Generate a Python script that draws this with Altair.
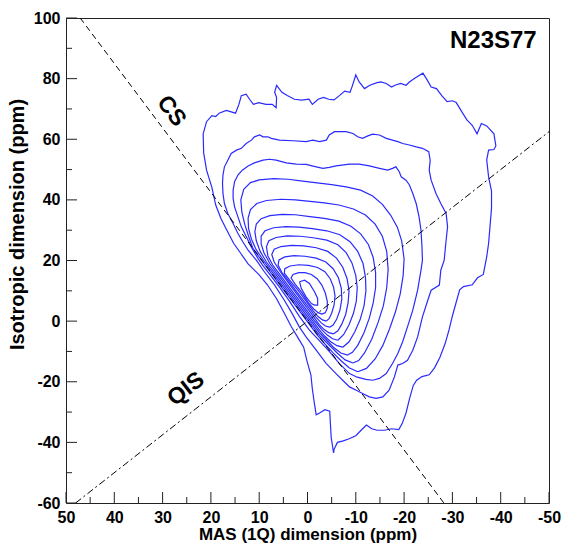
import altair as alt
import pandas as pd

FONT = "Liberation Sans, Arial, Helvetica, sans-serif"
BLUE = "#2a2aff"

# ---------------- data (ppm) ----------------
X_TICKS = [50, 40, 30, 20, 10, 0, -10, -20, -30, -40, -50]
X_MINOR = [45, 35, 25, 15, 5, -5, -15, -25, -35, -45]
Y_TICKS = [-60, -40, -20, 0, 20, 40, 60, 80, 100]
Y_MINOR = [-50, -30, -10, 10, 30, 50, 70, 90]

CS_X = [47.06, -28.24]
CS_Y = [100, -60]
QIS_X = [48, -50]
QIS_Y = [-60, 62.5]

C1 = [(21.6,61.8),(20.9,65.8),(19.8,67.8),(19.0,67.5),(18.3,68.6),(16.8,69.5),(14.9,68.6),(14.2,71.5),
      (13.7,74.4),(12.7,74.9),(12.0,73.2),(11.2,71.5),(10.1,72.1),(8.6,71.5),(7.3,71.5),(6.5,70.4),
      (6.4,73.8),(6.8,75.5),(6.4,77.8),(5.3,75.5),(4.2,74.4),(2.7,73.2),(1.2,72.9),(-0.3,73.2),
      (-1.0,71.5),(-2.2,73.2),(-3.3,73.8),(-4.4,73.2),(-5.5,73.0),(-6.6,74.4),(-7.7,75.9),(-8.8,75.5),
      (-9.2,77.2),(-10.0,81.2),(-10.7,78.9),(-11.8,76.7),(-12.9,77.8),(-14.4,78.7),(-15.2,78.9),
      (-16.3,78.4),(-17.4,77.2),(-18.1,77.8),(-19.3,78.4),(-20.4,77.8),(-21.1,78.9),(-22.2,80.1),
      (-23.9,81.8),(-24.8,79.5),(-25.6,77.2),(-26.7,76.7),(-27.8,74.4),(-28.9,72.4),(-30.0,72.7),
      (-30.8,72.1),(-31.9,69.2),(-33.0,66.4),(-34.1,64.6),(-35.1,61.8),(-36.0,65.2),(-37.1,64.4),
      (-38.6,61.8),(-39.0,57.8),(-38.6,56.6),(-37.5,56.4),(-37.1,53.2),(-37.5,47.5),(-38.1,42.9),
      (-38.1,37.2),(-37.8,31.5),(-37.5,25.7),(-37.1,21.2),(-36.4,15.4),(-35.2,14.3),(-34.1,12.0),
      (-32.3,11.4),(-31.5,10.3),(-30.8,6.3),(-30.0,1.7),(-29.3,-2.9),(-28.5,-7.4),(-27.4,-12.0),
      (-26.3,-15.4),(-25.2,-17.7),(-23.7,-18.3),(-22.6,-19.5),(-21.9,-21.2),(-21.1,-25.7),
      (-20.4,-30.3),(-19.6,-33.8),(-18.9,-35.8),(-17.4,-35.5),(-15.9,-36.0),(-14.4,-36.0),
      (-13.3,-35.5),(-12.2,-34.3),(-11.1,-36.0),(-10.0,-37.8),(-8.5,-38.9),(-7.4,-39.5),(-6.2,-40.0),
      (-5.5,-42.3),(-5.4,-43.5),(-4.9,-38.3),(-4.6,-29.7),(-3.6,-29.2),(-2.5,-30.3),(-1.8,-30.9),
      (-1.4,-26.9),(-1.0,-22.3),(-0.7,-17.7),(0.1,-13.2),(0.8,-8.6),(1.9,-5.7),(3.4,-1.7),(4.9,2.9),
      (6.4,7.4),(8.3,12.0),(10.1,15.4),(12.3,18.9),(13.8,22.3),(15.3,25.7),(16.8,30.3),(17.9,33.8),
      (19.0,38.3),(19.8,44.1),(20.9,49.8),(21.5,55.5)]

C2 = [(10.6,20.1),(12.3,23.4),(13.4,26.2),(14.4,28.9),(15.4,32.2),(16.5,35.5),(17.2,38.8),(17.5,42.1),
      (17.6,45.4),(17.5,48.2),(17.2,50.9),(16.5,53.1),(15.8,55.3),(14.7,56.4),(13.7,57.0),(12.7,58.6),
      (11.6,59.7),(11.0,60.8),(9.9,61.4),(9.2,60.8),(8.2,60.8),(7.5,60.3),(5.8,59.7),(3.0,59.5),
      (0.3,59.2),(-1.1,59.7),(-2.5,59.2),(-3.9,59.7),(-4.5,61.4),(-5.6,62.5),(-6.6,62.5),(-8.0,62.5),
      (-9.4,61.9),(-10.4,60.8),(-11.4,60.3),(-12.5,61.1),(-13.5,61.7),(-14.9,61.4),(-16.3,60.3),
      (-17.6,59.7),(-18.7,59.2),(-19.7,58.6),(-21.1,58.1),(-22.5,57.5),(-23.8,57.0),(-25.1,55.9),
      (-25.4,53.1),(-25.2,49.8),(-25.6,46.5),(-26.6,42.1),(-27.6,38.8),(-28.7,35.5),(-29.0,31.1),
      (-28.7,26.7),(-28.3,20.1),(-27.6,16.8),(-27.3,11.9),(-25.6,10.2),(-24.9,6.9),(-23.8,1.4),
      (-22.8,-5.2),(-21.8,-9.6),(-20.7,-12.9),(-19.7,-14.0),(-18.7,-14.5),(-18.0,-18.4),(-16.9,-22.8),
      (-15.6,-25.0),(-14.2,-25.5),(-12.8,-25.0),(-11.4,-23.9),(-10.1,-22.8),(-8.7,-21.7),(-7.6,-20.0),
      (-5.9,-17.3),(-3.9,-14.0),(-1.8,-9.6),(0.3,-5.2),(1.7,-1.9),(3.1,2.3),(4.8,6.9),(6.8,11.9),
      (8.9,16.2)]

C3 = [(10.27,20.7),(11.64,24.5),(12.67,27.8),(13.7,31.1),(14.4,34.4),(15.1,37.7),(15.4,40.5),(15.4,43.2),
      (15.1,46.0),(14.4,48.2),(13.5,49.8),(12.3,51.2),(11.0,52.2),(9.2,53.1),(7.85,53.4),(6.5,53.1),
      (4.4,52.2),(2.3,51.8),(0.3,51.7),(-1.8,50.9),(-3.2,50.4),(-4.5,50.7),(-5.9,51.2),(-8.7,51.8),
      (-10.7,51.8),(-12.8,51.2),(-14.9,50.4),(-16.6,49.8),(-17.6,50.4),(-18.3,50.9),(-19.0,49.3),
      (-19.4,47.6),(-20.4,46.5),(-21.1,44.9),(-21.8,42.1),(-22.5,38.8),(-23.1,34.4),(-23.5,30.0),
      (-23.7,24.5),(-23.8,20.1),(-23.5,16.8),(-22.8,10.2),(-21.8,3.6),(-20.7,-1.9),(-19.7,-6.8),
      (-18.7,-10.7),(-17.6,-14.0),(-16.3,-17.3),(-14.9,-18.9),(-13.5,-19.5),(-12.1,-19.2),
      (-10.3,-18.5),(-8.7,-17.3),(-6.6,-14.0),(-4.5,-10.0),(-2.5,-6.5),(-0.4,-3.0),(1.65,1.5),
      (3.7,6.5),(5.8,11.2),(7.85,15.5),(9.3,18.5)]

C4 = [(-10.4,-16.7),(-8.6,-15.4),(-6.9,-13.0),(-5.3,-10.5),(-3.6,-7.5),(-2.0,-4.5),(0.1,0.0),(2.45,5.0),
      (4.8,10.0),(7.15,15.0),(9.5,20.0),(11.3,24.0),(12.2,28.0),(13.0,32.0),(13.6,36.0),(13.8,40.0),
      (13.2,43.5),(11.8,45.7),(10.0,46.6),(7.0,47.0),(4.0,46.8),(1.0,46.2),(-2.0,45.6),(-5.0,45.0),
      (-8.0,44.3),(-11.0,43.2),(-13.5,41.3),(-15.5,38.5),(-17.2,35.0),(-18.6,31.0),(-19.5,26.5),
      (-20.0,20.5),(-19.8,15.0),(-19.2,9.0),(-18.2,3.0),(-17.0,-2.5),(-15.6,-8.0),(-14.0,-12.5),
      (-12.2,-15.6)]

C5 = [(-9.4,-13.8),(-7.8,-12.8),(-6.2,-10.6),(-4.7,-8.2),(-2.65,-5.0),(-0.3,0.0),(2.05,5.0),(4.4,10.0),
      (6.75,15.0),(9.1,20.0),(10.6,23.5),(11.6,27.0),(12.2,30.5),(12.3,34.0),(11.8,36.8),(10.5,38.8),
      (8.5,39.8),(5.5,40.2),(2.5,40.0),(-0.5,39.5),(-3.5,39.0),(-6.5,38.3),(-9.5,37.0),(-12.0,35.0),
      (-14.0,32.0),(-15.5,28.0),(-16.4,23.0),(-16.7,17.0),(-16.4,11.0),(-15.7,5.0),(-14.6,-0.5),
      (-13.3,-6.0),(-11.8,-10.5),(-10.6,-13.0)]

C6 = [(-8.3,-11.2),(-6.9,-10.5),(-5.5,-8.8),(-4.0,-6.3),(-2.6,-4.0),(-0.7,0.0),(1.65,5.0),(4.0,10.0),
      (6.35,15.0),(8.5,19.5),(9.8,23.0),(10.6,26.5),(10.9,29.5),(10.6,32.0),(9.6,33.8),(7.8,34.8),
      (5.2,35.2),(2.5,35.1),(-0.5,34.5),(-3.5,33.9),(-6.5,33.0),(-9.0,31.3),(-11.0,28.8),(-12.6,25.3),
      (-13.6,21.0),(-14.1,16.0),(-14.1,11.0),(-13.6,6.0),(-12.8,1.0),(-11.7,-3.8),(-10.4,-8.0),
      (-9.3,-10.3)]

C7 = [(-7.3,-8.6),(-6.1,-8.1),(-4.8,-6.8),(-3.6,-5.0),(-2.5,-3.0),(-1.1,0.0),(1.25,5.0),(3.6,10.0),
      (5.95,15.0),(7.8,19.0),(9.0,22.5),(9.6,25.5),(9.6,28.0),(8.8,29.8),(7.0,30.8),(4.5,31.2),
      (1.8,31.0),(-1.0,30.5),(-4.0,29.8),(-6.7,28.5),(-8.8,26.2),(-10.4,23.0),(-11.5,19.0),
      (-12.0,14.5),(-12.1,10.0),(-11.7,5.0),(-10.9,0.5),(-9.8,-3.5),(-8.6,-6.8)]

C8 = [(-6.3,-6.3),(-5.2,-5.8),(-4.1,-4.6),(-3.0,-2.9),(-1.5,0.0),(0.85,5.0),(3.2,10.0),(5.55,15.0),
      (7.2,18.5),(8.2,21.5),(8.5,24.5),(8.0,26.5),(6.5,27.6),(4.2,28.1),(1.5,28.0),(-1.2,27.5),
      (-4.0,26.7),(-6.3,25.2),(-8.0,22.6),(-9.2,19.2),(-10.0,15.0),(-10.3,11.0),(-10.1,6.5),
      (-9.5,2.5),(-8.6,-1.2),(-7.5,-4.4)]

C9 = [(-5.4,-4.2),(-4.4,-3.8),(-3.4,-2.7),(-2.4,-1.1),(-0.8,2.5),(1.55,7.5),(3.9,12.5),(5.6,16.2),
      (6.9,19.5),(7.4,22.0),(6.9,23.7),(5.5,24.6),(3.3,25.0),(0.8,24.8),(-1.8,24.2),(-4.2,23.0),
      (-6.0,20.8),(-7.3,17.8),(-8.2,14.0),(-8.6,10.0),(-8.4,6.0),(-7.9,2.2),(-7.1,-1.0),(-6.3,-3.2)]

C10 = [(-4.6,-2.0),(-3.7,-1.6),(-2.8,-0.5),(-1.8,1.2),(-0.25,4.5),(1.9,9.0),(3.8,13.0),(5.3,16.0),
       (6.1,18.5),(5.9,20.2),(4.7,21.2),(2.8,21.6),(0.5,21.4),(-1.8,20.8),(-3.8,19.5),(-5.3,17.3),
       (-6.4,14.3),(-7.0,10.8),(-7.1,7.2),(-6.7,3.5),(-6.0,0.5),(-5.3,-1.3)]

C11 = [(-3.9,0.0),(-3.1,0.4),(-2.2,1.5),(-1.2,3.3),(0.25,6.5),(2.1,10.5),(3.7,13.5),(4.8,15.8),
       (4.7,17.3),(3.6,18.2),(1.8,18.6),(-0.2,18.4),(-2.1,17.7),(-3.6,16.3),(-4.7,14.0),(-5.4,11.2),
       (-5.7,8.3),(-5.5,5.3),(-5.0,2.6),(-4.5,0.9)]

C12 = [(-3.0,2.3),(-2.2,2.8),(-1.3,4.0),(-0.2,6.0),(1.2,9.5),(2.6,12.3),(3.4,14.2),(3.0,15.4),
       (1.8,16.0),(0.5,16.0),(-0.8,15.4),(-2.0,14.0),(-3.0,11.8),(-3.7,9.2),(-4.1,6.5),(-4.1,4.3),
       (-3.7,2.8)]

C13 = [(1.65,13.0),(0.6,13.5),(-0.4,12.4),(-1.45,9.7),(-2.1,7.5),(-2.1,5.3),(-1.45,5.3),(-0.8,5.8),
       (0.3,8.0),(1.3,10.8)]

CONTOURS = [C1, C2, C3, C4, C5, C6, C7, C8, C9, C10, C11, C12, C13]

# ---------------- tables ----------------
rows = []
for ci, pts in enumerate(CONTOURS):
    closed = pts + [pts[0]]
    for j, (xv, yv) in enumerate(closed):
        rows.append({"contour": ci, "idx": j, "x": xv, "y": yv})
df = pd.DataFrame(rows)

cs_df = pd.DataFrame({"x": CS_X, "y": CS_Y, "idx": [0, 1]})
qis_df = pd.DataFrame({"x": QIS_X, "y": QIS_Y, "idx": [0, 1]})

xscale = alt.Scale(domain=[-50, 50], reverse=True, nice=False, zero=False)
yscale = alt.Scale(domain=[-60, 100], nice=False, zero=False)

x_axis = alt.Axis(
    title="MAS (1Q) dimension (ppm)", values=X_TICKS, grid=False, domain=False,
    ticks=False, tickSize=0, labelPadding=6, labelFontSize=16, labelFontWeight="bold",
    labelFont=FONT, labelColor="black", labelExpr="'' + datum.value", labelFlush=False,
    titleFontSize=17, titleFontWeight="bold", titleFont=FONT, titleColor="black",
    titleY=36, titleBaseline="alphabetic",
)
y_axis = alt.Axis(
    title="Isotropic dimension (ppm)", values=Y_TICKS, grid=False, domain=False,
    ticks=False, tickSize=0, labelPadding=6, labelFontSize=16, labelFontWeight="bold",
    labelFont=FONT, labelColor="black", labelExpr="'' + datum.value", labelFlush=False,
    titleFontSize=20, titleFontWeight="bold", titleFont=FONT, titleColor="black",
    titleX=-49, titleY=206, titleAngle=270, titleAlign="center", titleBaseline="middle",
)

X = alt.X("x:Q", scale=xscale, axis=x_axis, title="MAS (1Q) dimension (ppm)")
Y = alt.Y("y:Q", scale=yscale, axis=y_axis, title="Isotropic dimension (ppm)")

contours = alt.Chart(df).mark_line(color=BLUE, strokeWidth=1.2, clip=True).encode(
    x=X, y=Y, detail="contour:N", order="idx:Q",
)

cs_line = alt.Chart(cs_df).mark_line(color="black", strokeWidth=1, strokeDash=[6, 4], clip=True).encode(
    x=X, y=Y, order="idx:Q",
)
qis_line = alt.Chart(qis_df).mark_line(color="black", strokeWidth=1, strokeDash=[7, 3, 2, 3], clip=True).encode(
    x=X, y=Y, order="idx:Q",
)

# inward ticks
xt_major = alt.Chart(pd.DataFrame({"x": X_TICKS})).mark_rule(color="#222", strokeWidth=1).encode(
    x=X, y=alt.value(485), y2=alt.value(474))
xt_minor = alt.Chart(pd.DataFrame({"x": X_MINOR})).mark_rule(color="#222", strokeWidth=1).encode(
    x=X, y=alt.value(485), y2=alt.value(479))
yt_major = alt.Chart(pd.DataFrame({"y": Y_TICKS})).mark_rule(color="#222", strokeWidth=1).encode(
    y=Y, x=alt.value(0), x2=alt.value(11))
yt_minor = alt.Chart(pd.DataFrame({"y": Y_MINOR})).mark_rule(color="#222", strokeWidth=1).encode(
    y=Y, x=alt.value(0), x2=alt.value(6))

one = pd.DataFrame({"a": [0]})
title_txt = alt.Chart(one).mark_text(
    font=FONT, fontSize=24, fontWeight="bold", color="black", align="right", baseline="alphabetic"
).encode(x=alt.value(470.7), y=alt.value(30.3), text=alt.value("N23S77"))
cs_txt = alt.Chart(one).mark_text(
    font=FONT, fontSize=23, fontWeight="bold", color="black", align="center", baseline="middle", angle=53
).encode(x=alt.value(105.5), y=alt.value(93), text=alt.value("CS"))
qis_txt = alt.Chart(one).mark_text(
    font=FONT, fontSize=23, fontWeight="bold", color="black", align="center", baseline="middle", angle=322
).encode(x=alt.value(120), y=alt.value(371), text=alt.value("QIS"))

chart = alt.layer(
    contours, cs_line, qis_line, xt_major, xt_minor, yt_major, yt_minor, title_txt, cs_txt, qis_txt
).properties(
    width=483, height=485,
    autosize="none",
    padding={"left": 66, "top": 18, "right": 15, "bottom": 41},
    background="white",
).configure_view(stroke="#222", strokeWidth=1)

chart.save("out.html", embed_options={"renderer": "svg", "actions": False})
